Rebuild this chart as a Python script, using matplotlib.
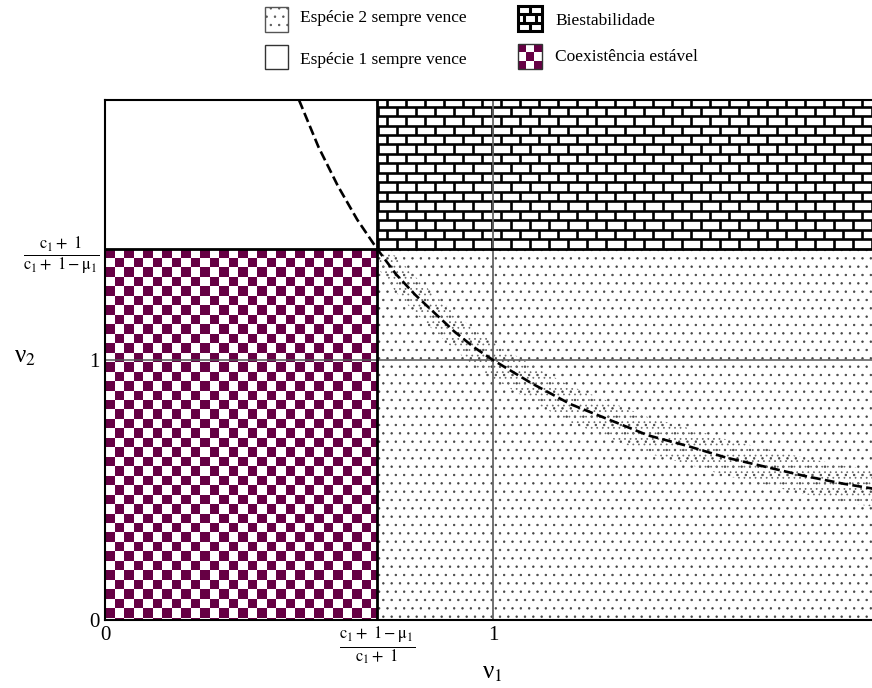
import numpy as np
import matplotlib
matplotlib.use('Agg')
import matplotlib.pyplot as plt
from matplotlib.patches import Rectangle
from matplotlib.colors import ListedColormap

plt.rcParams['font.family'] = ['Liberation Serif', 'DejaVu Serif']
plt.rcParams['mathtext.fontset'] = 'stix'
plt.rcParams['mathtext.default'] = 'rm'
plt.rcParams['hatch.linewidth'] = 0.5

# ---------------- data ----------------
x_max, y_max = 767/388, 2.0
a = 0.7            # (c1+1-mu1)/(c1+1)
b = 1.0 / a        # (c1+1)/(c1+1-mu1)
x_ticks = [0, a, 1]
x_ticklabels = ['0', r'$\frac{c_1+\ 1-\mu_1}{c_1+\ 1}$', '1']
y_ticks = [0, 1, b]
y_ticklabels = ['0', '1', r'$\frac{c_1+\ 1}{c_1+\ 1-\mu_1}$']
x_label = 'ν$_{1}$'
y_label = 'ν$_{2}$'
legend_labels = ['Espécie 2 sempre vence', 'Espécie 1 sempre vence',
                 'Biestabilidade', 'Coexistência estável']
curve_x = [0.50, 0.55, 0.60, 0.65, 0.70, 0.75, 0.80, 0.85, 0.90, 0.95, 1.00,
           1.10, 1.20, 1.30, 1.40, 1.50, 1.60, 1.70, 1.80, 1.90, 2.00]
curve_y = [2.00, 1.82, 1.67, 1.54, 1.43, 1.33, 1.25, 1.18, 1.11, 1.05, 1.00,
           0.91, 0.83, 0.77, 0.71, 0.67, 0.625, 0.59, 0.555, 0.525, 0.50]

purple = '#660044'

fig = plt.figure(figsize=(8.72, 6.88), dpi=100)
ax = fig.add_axes([105/872, 1-620/688, 1-105/872, (620-100)/688])
ax.set_xlim(0, x_max)
ax.set_ylim(0, y_max)

# --- checkerboard region (stable coexistence) ---
dx = 9.5/388
dy = 9.5/261
nx = int(np.ceil(a/dx))
ny = int(np.ceil(b/dy))
xe = np.minimum(np.arange(nx+1)*dx, a)
ye = np.maximum(b - np.arange(ny+1)*dy, 0)[::-1]
I, J = np.meshgrid(np.arange(ny), np.arange(nx), indexing='ij')
Z = ((ny-1-I) + J) % 2
ax.pcolormesh(xe, ye, Z, cmap=ListedColormap([purple, 'white']),
              shading='flat', zorder=1, antialiased=False)

# --- dotted region (species 2 always wins) ---
ax.add_patch(Rectangle((a, 0), 2.0-a, b, facecolor='white',
                       edgecolor='#444444', linewidth=0, hatch='..', zorder=1))
cx = np.array(curve_x); cy = np.array(curve_y)
m = cx >= a
ax.fill_between(cx[m], np.maximum(cy[m]-0.07, 0), np.minimum(cy[m]+0.07, b),
                facecolor='none', edgecolor='#666666', linewidth=0,
                hatch='...', zorder=1.5)

# --- brick region (bistability) ---
bdx = 19/388
bdy = 9.5/261
rows = int(np.ceil((y_max-b)/bdy))
hy = [b + k*bdy for k in range(1, rows) if b + k*bdy < y_max]
ax.hlines(hy, a, 2.0, colors='black', linewidth=1.9, zorder=2)
vx, vy0, vy1 = [], [], []
for k in range(rows):
    y0 = b + k*bdy
    y1 = min(b + (k+1)*bdy, y_max)
    off = 0.05*bdx if k % 2 == 0 else 0.55*bdx
    xs = np.arange(a+off, 2.0, bdx)
    vx += list(xs); vy0 += [y0]*len(xs); vy1 += [y1]*len(xs)
ax.vlines(vx, vy0, vy1, colors='black', linewidth=1.9, zorder=2)

# --- reference lines ---
ax.axhline(1, color='#555555', linewidth=1.1, zorder=3)
ax.axvline(1, color='#666666', linewidth=1.3, zorder=3)
ax.axhline(b, color='black', linewidth=2.0, zorder=4)
ax.axvline(a, color='black', linewidth=2.0, zorder=4)

# --- boundary curve ---
ax.plot(curve_x, curve_y, color='black', linestyle='--', linewidth=1.9,
        zorder=5, clip_on=True)

for s in ['left', 'bottom', 'top']:
    ax.spines[s].set_linewidth(1.5)
    ax.spines[s].set_zorder(6)
ax.spines['right'].set_visible(False)

ax.set_xticks(x_ticks)
ax.set_xticklabels(x_ticklabels)
ax.set_yticks(y_ticks)
ax.set_yticklabels(y_ticklabels)
ax.tick_params(length=0, pad=4)
for lab in ax.get_xticklabels() + ax.get_yticklabels():
    lab.set_fontsize(15 if lab.get_text() in ('0', '1') else 17)

ax.set_xlabel(x_label, fontsize=18)
ax.xaxis.set_label_coords((492-105)/767, -(662-620)/520)
ax.set_ylabel(y_label, fontsize=18, rotation=0, va='center', ha='center')
ax.yaxis.set_label_coords((25-105)/767, (620-357)/520)

# ---------------- legend (custom, pixel coordinates) ----------------
lax = fig.add_axes([0, 0, 1, 1])
lax.set_xlim(0, 872)
lax.set_ylim(688, 0)
lax.axis('off')
lax.patch.set_alpha(0)

# dotted box
lax.add_patch(Rectangle((265, 7), 23, 25, facecolor='white', edgecolor='#555555',
                        linewidth=1.0, hatch='..'))
# white box
lax.add_patch(Rectangle((265, 45), 23, 24, facecolor='white', edgecolor='#333333',
                        linewidth=1.0))
# brick box
bx, by, bw, bh = 518, 6, 24, 25
lax.add_patch(Rectangle((bx, by), bw, bh, facecolor='white', edgecolor='black',
                        linewidth=2.2))
lax.hlines([by+bh/3, by+2*bh/3], bx, bx+bw, colors='black', linewidth=2.2)
lax.vlines([bx+bw/2], by, by+bh/3, colors='black', linewidth=2.2)
lax.vlines([bx+bw/4, bx+3*bw/4], by+bh/3, by+2*bh/3, colors='black', linewidth=2.2)
lax.vlines([bx+bw/2], by+2*bh/3, by+bh, colors='black', linewidth=2.2)
# checker box
cx0, cy0, cw, ch = 518, 44, 24, 25
for i in range(3):
    for j in range(3):
        col = purple if (i+j) % 2 == 0 else 'white'
        lax.add_patch(Rectangle((cx0+j*cw/3, cy0+i*ch/3), cw/3, ch/3,
                                facecolor=col, edgecolor='none'))
lax.add_patch(Rectangle((cx0, cy0), cw, ch, facecolor='none', edgecolor='#333333',
                        linewidth=1.0))

lfs = 12.5
lax.text(300, 18, legend_labels[0], fontsize=lfs, va='center', ha='left')
lax.text(300, 60, legend_labels[1], fontsize=lfs, va='center', ha='left')
lax.text(555, 21, legend_labels[2], fontsize=lfs, va='center', ha='left')
lax.text(555, 57, legend_labels[3], fontsize=lfs, va='center', ha='left')

fig.savefig('out.png', dpi=100)
